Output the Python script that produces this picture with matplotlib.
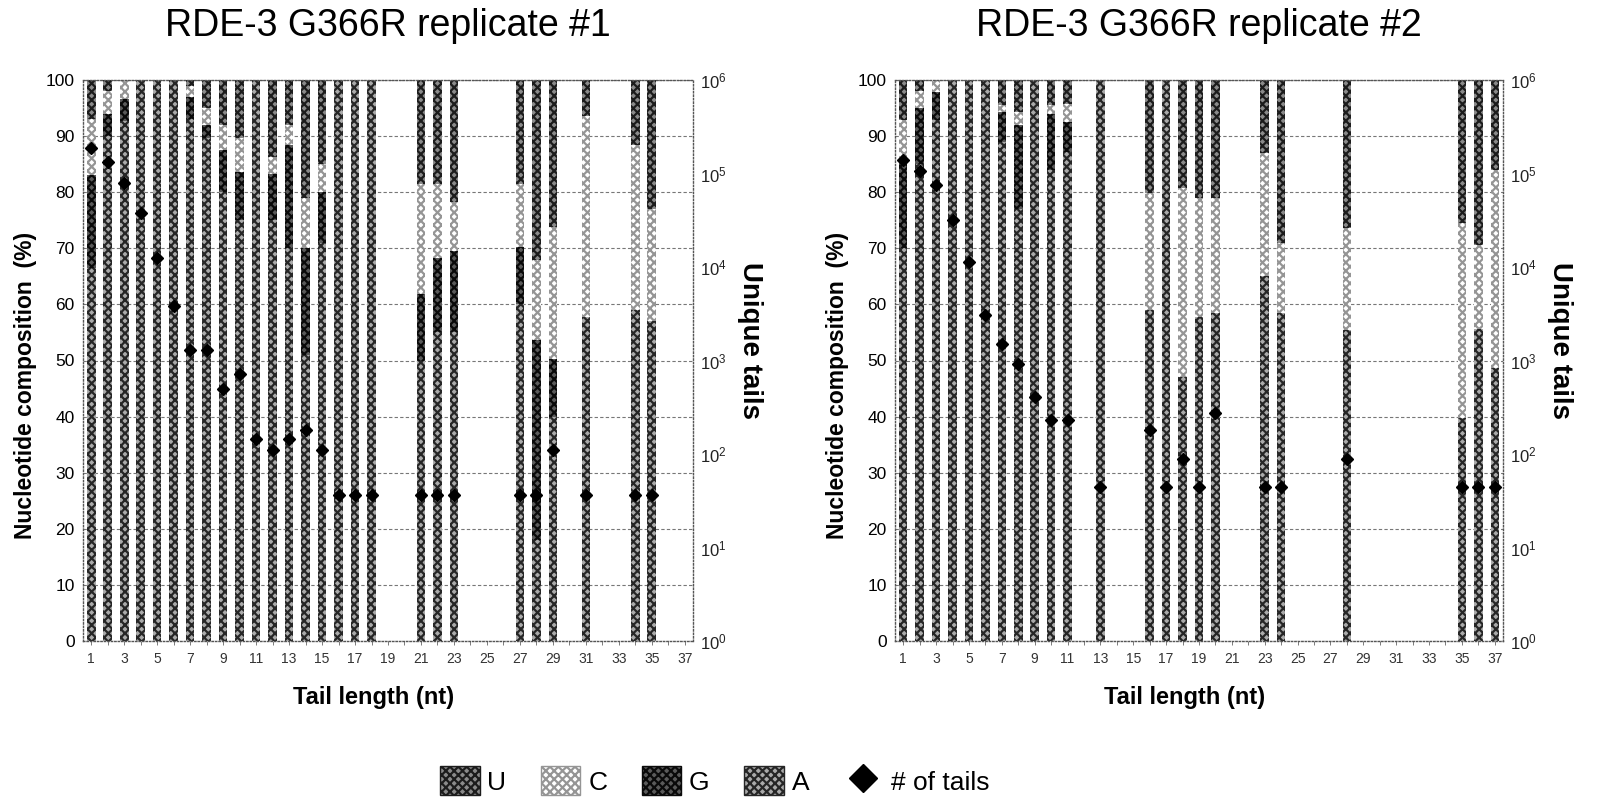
import matplotlib
matplotlib.use("Agg")
import matplotlib.pyplot as plt
import numpy as np
from matplotlib.patches import Patch
from matplotlib.lines import Line2D

plt.rcParams['font.family'] = ['Liberation Sans', 'DejaVu Sans']
plt.rcParams['hatch.linewidth'] = 1.6

# ---------------- Data ----------------
titles = ["RDE-3 G366R replicate #1", "RDE-3 G366R replicate #2"]

# Replicate #1
tails1 = [1, 2, 3, 4, 5, 6, 7, 8, 9, 10, 11, 12, 13, 14, 15, 16, 17, 18,
          21, 22, 23, 27, 28, 29, 31, 34, 35]
A1 = [66.5, 90, 92.7, 100, 100, 100, 93, 89.6, 80, 75, 100, 75, 70, 51, 71, 100, 100, 100,
      50, 55, 55, 60, 18, 40, 57.7, 59, 57]
G1 = [16.5, 4, 4, 0, 0, 0, 4, 2.4, 7.5, 8.6, 0, 8.3, 18.4, 19, 9, 0, 0, 0,
      11.9, 13.2, 14.6, 10.2, 35.6, 10.3, 0, 0, 0]
C1 = [10, 4, 3.3, 0, 0, 0, 2, 3, 4.5, 6, 0, 3, 3.6, 9, 5, 0, 0, 0,
      19.6, 13.3, 8.7, 11.3, 14.3, 23.5, 35.8, 29.4, 20]
U1 = [7, 2, 0, 0, 0, 0, 1, 5, 8, 10.4, 0, 13.7, 8, 21, 15, 0, 0, 0,
      18.5, 18.5, 21.7, 18.5, 32.1, 26.2, 6.5, 11.6, 23]
count1 = [186000, 132000, 79000, 38000, 12600, 3800, 1290, 1290, 500, 720, 145, 110, 145,
          180, 110, 36, 36, 36, 36, 36, 36, 36, 36, 110, 36, 36, 36]

# Replicate #2
tails2 = [1, 2, 3, 4, 5, 6, 7, 8, 9, 10, 11, 13, 16, 17, 18, 19, 20, 23, 24, 28, 35, 36, 37]
A2 = [70, 85, 92.9, 100, 100, 100, 89, 77, 100, 84, 87.2, 100, 59, 100, 47, 57.8, 58.5,
      65, 58.5, 55.4, 39.7, 55.6, 48.6]
G2 = [16, 10, 5, 0, 0, 0, 5.3, 15, 0, 10, 5.4, 0, 0, 0, 0, 0, 0, 0, 0, 0, 0, 0, 0]
C2 = [6.9, 3, 2.1, 0, 0, 0, 1.2, 2.3, 0, 1.5, 3.2, 0, 20.8, 0, 33.7, 21.2, 20.5,
      22, 12.5, 18.2, 34.8, 15, 35.4]
U2 = [7.1, 2, 0, 0, 0, 0, 4.5, 5.7, 0, 4.5, 4.2, 0, 20.2, 0, 19.3, 21, 21,
      13, 29, 26.4, 25.5, 29.4, 16]
count2 = [138000, 107000, 76000, 31600, 11200, 3100, 1500, 910, 410, 230, 230, 44, 180,
          44, 89, 44, 275, 44, 44, 89, 44, 44, 44]

x_ticks = list(range(1, 38))
x_labels = [str(t) if t % 2 == 1 else "" for t in x_ticks]
y_ticks = list(range(0, 101, 10))

# ---------------- Styles ----------------
styles = {
    'U': dict(facecolor='#8a8a8a', edgecolor='#1c1c1c', hatch='xxxx'),
    'C': dict(facecolor='#ffffff', edgecolor='#959595', hatch='xxxx'),
    'G': dict(facecolor='#5a5a5a', edgecolor='#0a0a0a', hatch='xxxx'),
    'A': dict(facecolor='#aaaaaa', edgecolor='#262626', hatch='xxxx'),
}

fig = plt.figure(figsize=(16.06, 8.09), dpi=100)

ax_pos = [[83 / 1606, 1 - 641 / 809, 610 / 1606, 561 / 809],
          [895 / 1606, 1 - 641 / 809, 608 / 1606, 561 / 809]]

datasets = [(tails1, A1, G1, C1, U1, count1), (tails2, A2, G2, C2, U2, count2)]

for i, (tails, A, G, C, U, cnt) in enumerate(datasets):
    ax = fig.add_axes(ax_pos[i])
    A = np.array(A); G = np.array(G); C = np.array(C); U = np.array(U)
    bottom = np.zeros(len(tails))
    for name, vals in [('A', A), ('G', G), ('C', C), ('U', U)]:
        ax.bar(tails, vals, bottom=bottom, width=0.52, linewidth=0, zorder=2,
               **styles[name])
        bottom = bottom + vals
    ax.set_xlim(0.5, 37.5)
    ax.set_ylim(0, 100)
    ax.set_yticks(y_ticks)
    ax.set_xticks(x_ticks)
    ax.set_xticklabels(x_labels, fontsize=10, color='#333333')
    ax.tick_params(axis='y', labelsize=12.5, length=0, pad=6)
    ax.tick_params(axis='x', length=3, width=0.6, color='#666666', pad=5)
    ax.yaxis.grid(True, linestyle=(0, (3, 2)), color='#777777', linewidth=0.8, zorder=0)
    ax.set_axisbelow(True)
    for s in ax.spines.values():
        s.set_linestyle((0, (1, 1.5)))
        s.set_color('#555555')
        s.set_linewidth(1.0)
    ax.set_ylabel("Nucleotide composition  (%)", fontsize=16.5, fontweight='bold', labelpad=6)
    ax.yaxis.label.set_y(0.456)
    ax.set_xlabel("Tail length (nt)", fontsize=17, fontweight='bold', labelpad=14)
    ax.xaxis.label.set_x(0.477)
    ax.set_title(titles[i], fontsize=27, pad=32)

    ax2 = ax.twinx()
    ax2.set_yscale('log')
    ax2.set_ylim(1, 1e6)
    ax2.plot(tails, cnt, linestyle='none', marker='D', markersize=6,
             color='black', zorder=5)
    ax2.set_yticks([10 ** k for k in range(7)])
    ax2.yaxis.set_minor_locator(matplotlib.ticker.NullLocator())
    ax2.tick_params(axis='y', labelsize=12, length=0, pad=5, labelcolor='#222222')
    for s in ax2.spines.values():
        s.set_visible(False)
    ax2.set_ylabel("Unique tails", fontsize=20, fontweight='bold', rotation=-90, labelpad=26)
    ax2.yaxis.label.set_y(0.535)

handles = [Patch(label='U', **styles['U']),
           Patch(label='C', **styles['C']),
           Patch(label='G', **styles['G']),
           Patch(label='A', **styles['A']),
           Line2D([], [], linestyle='none', marker='D', markersize=14, color='black',
                  label='# of tails')]
fig.legend(handles=handles, loc='center', bbox_to_anchor=(0.445, 0.035), ncol=5,
           frameon=False, fontsize=19, handlelength=1.5, handleheight=1.3,
           columnspacing=1.3, handletextpad=0.3)

fig.savefig("out.png", dpi=100)
